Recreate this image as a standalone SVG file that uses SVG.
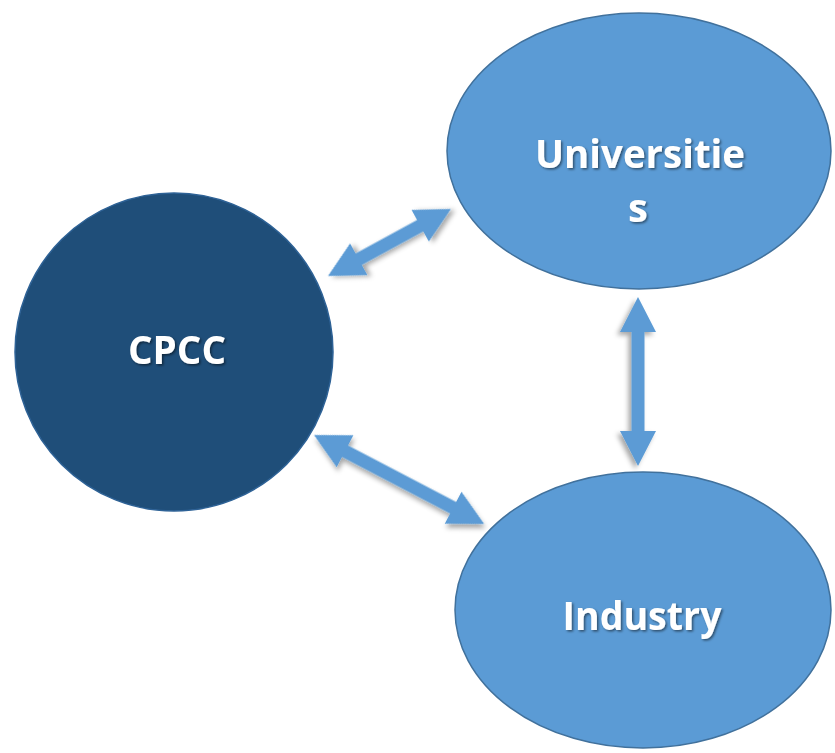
<svg xmlns="http://www.w3.org/2000/svg" width="835" height="753" viewBox="0 0 835 753">
<defs>
<filter id="sh" x="-20%" y="-20%" width="140%" height="140%">
<feDropShadow dx="3" dy="3" stdDeviation="2.5" flood-color="#000" flood-opacity="0.35"/>
</filter>
<filter id="tsh" x="-10%" y="-20%" width="120%" height="140%">
<feDropShadow dx="1.5" dy="1.5" stdDeviation="1.2" flood-color="#000" flood-opacity="0.5"/>
</filter>
<style>
.dark{fill:#1F4E79;stroke:#2E6296;stroke-width:1.5}
.light{fill:#5B9BD5;stroke:#41719C;stroke-width:1.5}
.lbl{font-family:"Open Sans","Liberation Sans",sans-serif;font-weight:bold;fill:#fff;text-anchor:middle;filter:url(#tsh)}
.arr{fill:#5B9BD5;filter:url(#sh)}
</style>
</defs>
<g id="connectors">
<polygon class="arr" transform="translate(328,276) rotate(-28.6)" points="0,0 35,-18 35,-6.5 105,-6.5 105,-18 140,0 105,18 105,6.5 35,6.5 35,18"/>
<polygon class="arr" transform="translate(638,297) rotate(90)" points="0,0 35,-18 35,-6.5 134,-6.5 134,-18 169,0 134,18 134,6.5 35,6.5 35,18"/>
<polygon class="arr" transform="translate(314,435) rotate(27.6)" points="0,0 35,-18 35,-6.5 157,-6.5 157,-18 192,0 157,18 157,6.5 35,6.5 35,18"/>
</g>
<g id="cpcc">
<circle class="dark" cx="174" cy="352" r="159"/>
<text class="lbl" x="177" y="364" font-size="40" textLength="98" lengthAdjust="spacingAndGlyphs">CPCC</text>
</g>
<g id="universities">
<ellipse class="light" cx="639" cy="151" rx="192" ry="138"/>
<text class="lbl" x="640" y="168" font-size="40" textLength="210" lengthAdjust="spacingAndGlyphs">Universitie</text>
<text class="lbl" x="638" y="222" font-size="40">s</text>
</g>
<g id="industry">
<ellipse class="light" cx="643" cy="610" rx="188" ry="138"/>
<text class="lbl" x="642" y="630" font-size="40" textLength="159" lengthAdjust="spacingAndGlyphs">Industry</text>
</g>
</svg>
